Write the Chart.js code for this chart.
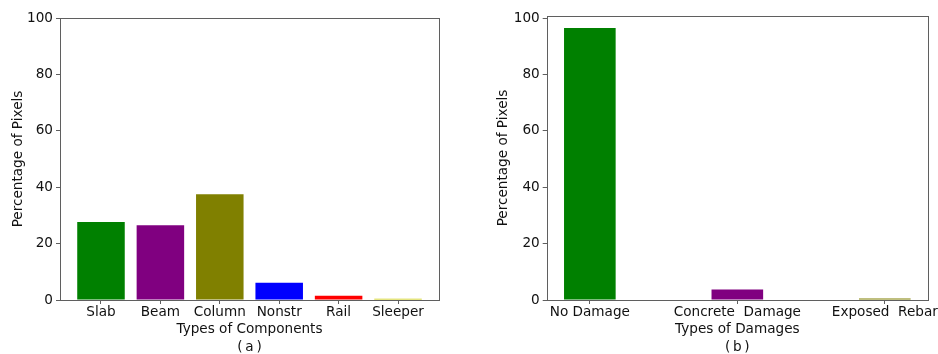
<!DOCTYPE html>
<html>
<head>
<meta charset="utf-8">
<script src="https://cdn.jsdelivr.net/npm/chart.js@4/dist/chart.umd.min.js"></script>
<style>
  html, body { margin: 0; padding: 0; background: #fff; overflow: hidden; width: 938px; height: 354px; }
  .panel { position: absolute; top: 0; }
</style>
</head>
<body>
<div class="panel" style="left:0px;width:470px;height:358px"><canvas id="compChart"></canvas></div>
<div class="panel" style="left:470px;width:470px;height:358px"><canvas id="dmgChart"></canvas></div>
<script>
// (a) share of pixels per structural component
const componentLabels = ['Slab', 'Beam', 'Column', 'Nonstr', 'Rail', 'Sleeper'];
const componentValues = [27.7, 26.5, 37.5, 6.1, 1.5, 0.4];
const componentColors = ['#008000', '#800080', '#808000', '#0000ff', '#ff0000', '#cccc00'];

// (b) share of pixels per damage type
const damageLabels = ['No Damage', 'Concrete  Damage', 'Exposed  Rebar'];
const damageValues = [96.5, 3.7, 0.5];
const damageColors = ['#008000', '#800080', '#808000'];

const yTicks = [0, 20, 40, 60, 80, 100];

const FONT = { family: 'DejaVu Sans', size: 13.6 };
const TEXT = '#111111';
const AXIS = '#5f5f5f';

// Strokes the four spines around the plotting area
const frame = {
  id: 'frame',
  afterDatasetsDraw(chart) {
    const { ctx, chartArea: a } = chart;
    ctx.save();
    ctx.strokeStyle = AXIS;
    ctx.lineWidth = 1;
    ctx.strokeRect(Math.round(a.left) + 0.5, Math.round(a.top) + 0.5,
                   Math.round(a.right - a.left), Math.round(a.bottom - a.top));
    ctx.restore();
  }
};

function makeChart(id, labels, values, colors, opts) {
  const points = values.map((v, i) => ({ x: i, y: v }));
  return new Chart(document.getElementById(id), {
    type: 'bar',
    data: {
      datasets: [{
        data: points,
        backgroundColor: colors,
        borderWidth: 0,
        categoryPercentage: 1,
        barPercentage: opts.barWidth
      }]
    },
    options: {
      responsive: true,
      maintainAspectRatio: false,
      animation: false,
      events: [],
      layout: { padding: opts.padding },
      plugins: { legend: { display: false }, tooltip: { enabled: false } },
      scales: {
        x: {
          type: 'linear',
          offset: false,
          min: opts.xMin,
          max: opts.xMax,
          afterBuildTicks: s => { s.ticks = labels.map((_, i) => ({ value: i })); },
          afterFit: s => { s.height = 58; },
          border: { display: false },
          grid: { offset: false, drawOnChartArea: false, drawTicks: true, tickLength: 4, color: AXIS, tickColor: AXIS },
          ticks: {
            autoSkip: false, maxRotation: 0, padding: 0.8,
            color: TEXT, font: FONT,
            callback: v => labels[v]
          },
          title: {
            display: true,
            text: [opts.xTitle, opts.panel],
            color: TEXT,
            font: { family: 'DejaVu Sans', size: 13.6, lineHeight: 1.3 },
            padding: { top: 0, bottom: 2 }
          }
        },
        y: {
          min: 0,
          max: opts.yMax,
          afterBuildTicks: s => { s.ticks = yTicks.map(v => ({ value: v })); },
          afterFit: s => { s.width = opts.yWidth; },
          border: { display: false },
          grid: { drawOnChartArea: false, drawTicks: true, tickLength: 4, color: AXIS, tickColor: AXIS },
          ticks: { padding: 3, color: TEXT, font: FONT },
          title: {
            display: true,
            text: 'Percentage of Pixels',
            color: TEXT,
            font: FONT,
            padding: { top: opts.yTitlePad, bottom: 0 }
          }
        }
      }
    },
    plugins: [frame]
  });
}

makeChart('compChart', componentLabels, componentValues, componentColors, {
  barWidth: 0.8, xMin: -0.69, xMax: 5.69, yMax: 100,
  xTitle: 'Types of Components', panel: '(\u2009a\u2009)',
  yWidth: 60, yTitlePad: 10,
  padding: { left: 0, right: 31, top: 18, bottom: 0 }
});

makeChart('dmgChart', damageLabels, damageValues, damageColors, {
  barWidth: 0.35, xMin: -0.2925, xMax: 2.2925, yMax: 100.8,
  xTitle: 'Types of Damages', panel: '(\u2009b\u2009)',
  yWidth: 76.7, yTitlePad: 25,
  padding: { left: 0, right: 12, top: 16, bottom: 0 }
});
</script>
</body>
</html>
